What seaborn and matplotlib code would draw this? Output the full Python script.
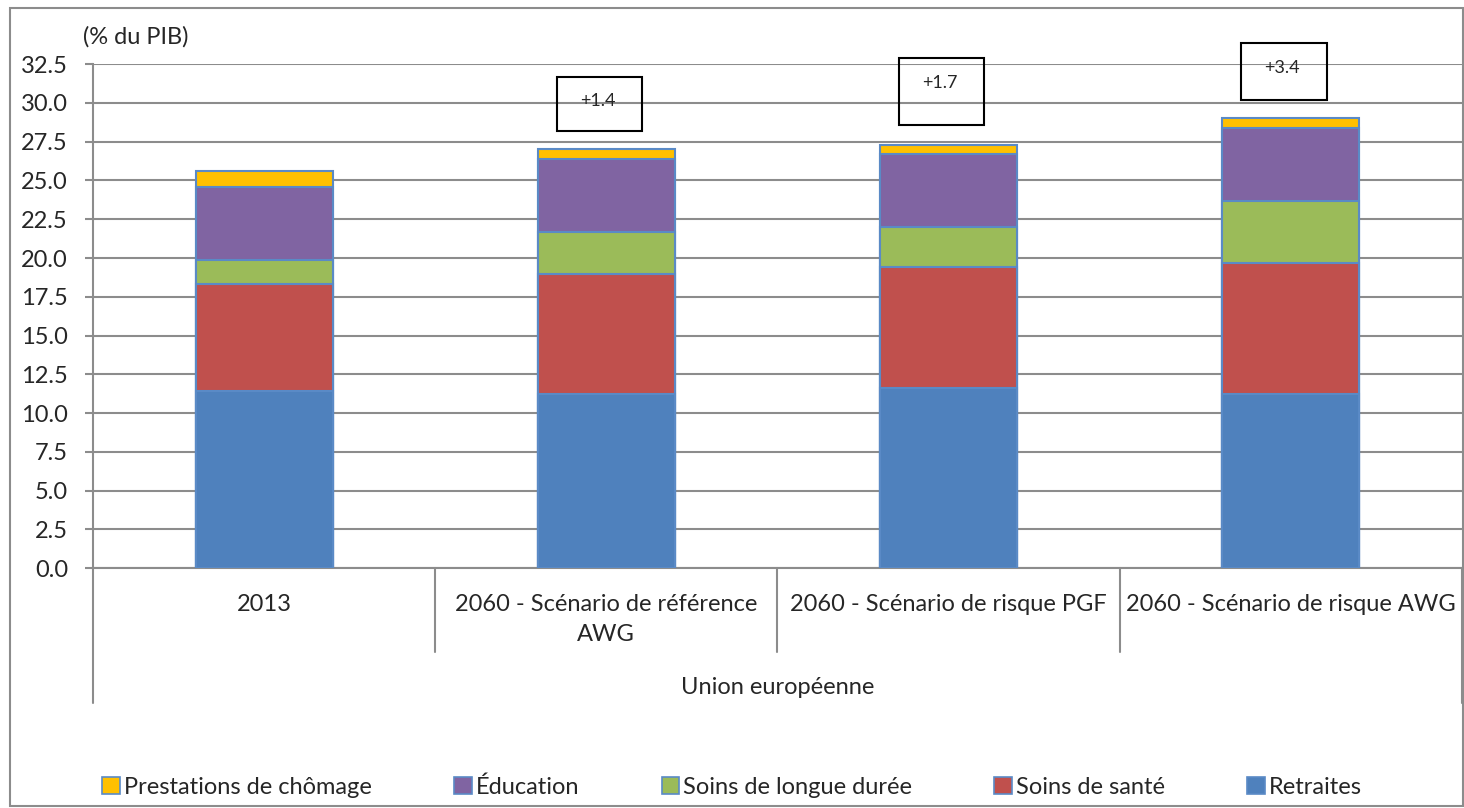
import numpy as np
import pandas as pd
import matplotlib
matplotlib.use("Agg")
import matplotlib.pyplot as plt
import matplotlib.transforms as mtransforms
from matplotlib.patches import Rectangle, Patch
import seaborn as sns

categories = ["2013", "2060 - Scénario de référence\nAWG",
              "2060 - Scénario de risque PGF", "2060 - Scénario de risque AWG"]
group_label = "Union européenne"
series = ["Retraites", "Soins de santé", "Soins de longue durée", "Éducation",
          "Prestations de chômage"]
retraites = [11.4, 11.2, 11.6, 11.2]
sante = [6.9, 7.8, 7.8, 8.5]
longue_duree = [1.6, 2.7, 2.6, 4.0]
education = [4.7, 4.7, 4.7, 4.7]
chomage = [1.0, 0.6, 0.6, 0.6]
deltas = ["", "+1.4", "+1.7", "+3.4"]
colors = ["#4F81BD", "#C0504D", "#9BBB59", "#8064A2", "#FFC000"]

sns.set_theme(style="white")
plt.rcParams['font.family'] = ['Lato', 'DejaVu Sans']
FS = 17

df = pd.DataFrame({"cat": categories, "Retraites": retraites, "Soins de santé": sante,
                   "Soins de longue durée": longue_duree, "Éducation": education,
                   "Prestations de chômage": chomage})
cum = df[series].cumsum(axis=1)

fig = plt.figure(figsize=(14.64, 8.08), dpi=100)
ax = fig.add_axes([0.0635, 0.297, 0.935, 0.6235])

# draw from the top layer down so lower layers cover
for s, c in reversed(list(zip(series, colors))):
    sns.barplot(x=df["cat"], y=cum[s], color=c, width=0.4, saturation=1,
                edgecolor="#5A8AC6", linewidth=1.5, ax=ax, zorder=3)

ax.set_xlim(-0.5, 3.5)
ax.set_ylim(0, 32.5)
ax.set_yticks(np.arange(0, 32.6, 2.5))
ax.set_yticklabels([f"{v:.1f}" for v in np.arange(0, 32.6, 2.5)], fontsize=FS)
ax.set_xticks([])
ax.set_xlabel("")
ax.set_ylabel("")
ax.grid(axis="y", color="#8C8C8C", linewidth=1.5, zorder=0)
ax.set_axisbelow(True)
for side in ["top", "right"]:
    ax.spines[side].set_visible(False)
for side in ["left", "bottom"]:
    ax.spines[side].set_color("#8C8C8C")
    ax.spines[side].set_linewidth(1.5)
ax.tick_params(axis="y", length=6, width=1.5, color="#8C8C8C", left=True, pad=12)

# hierarchical category axis
trans = mtransforms.blended_transform_factory(ax.transData, ax.transAxes)
for i, cat in enumerate(categories):
    ax.text(i, -0.052, cat, transform=trans, ha="center", va="top", fontsize=FS,
            linespacing=1.5)
for b in np.arange(-0.5, 4, 1):
    bottom = -0.268 if b in (-0.5, 3.5) else -0.167
    ax.plot([b, b], [0, bottom], transform=trans, color="#8C8C8C", lw=1.5,
            clip_on=False)
ax.text(1.5, -0.237, group_label, transform=trans, ha="center", va="center",
        fontsize=FS)

# boxes with the change versus 2013
box_specs = {1: (28.2, 3.5), 2: (28.6, 4.3), 3: (30.2, 3.65)}
for i, (y0, h) in box_specs.items():
    ax.add_patch(Rectangle((i - 0.145, y0), 0.25, h, fill=False, edgecolor="black",
                           lw=1.5, clip_on=False, zorder=5))
    ax.text(i - 0.025, y0 + h - 1.6, deltas[i], ha="center", va="center",
            fontsize=13, zorder=6, clip_on=False)

fig.text(0.0567, 0.954, "(% du PIB)", fontsize=FS, ha="left", va="center")

handles = [Patch(facecolor=c, edgecolor="#5A8AC6", lw=1.2, label=s)
           for s, c in zip(series, colors)][::-1]
fig.legend(handles=handles, loc="center", bbox_to_anchor=(0.5, 0.026), ncol=5,
           frameon=False, fontsize=FS, handlelength=0.75, handleheight=0.75,
           handletextpad=0.15, columnspacing=3.5)

fig.patches.append(Rectangle((0.007, 0.002), 0.992, 0.988, transform=fig.transFigure,
                             fill=False, edgecolor="#8C8C8C", lw=1.5))

fig.savefig("out.png", dpi=100)
